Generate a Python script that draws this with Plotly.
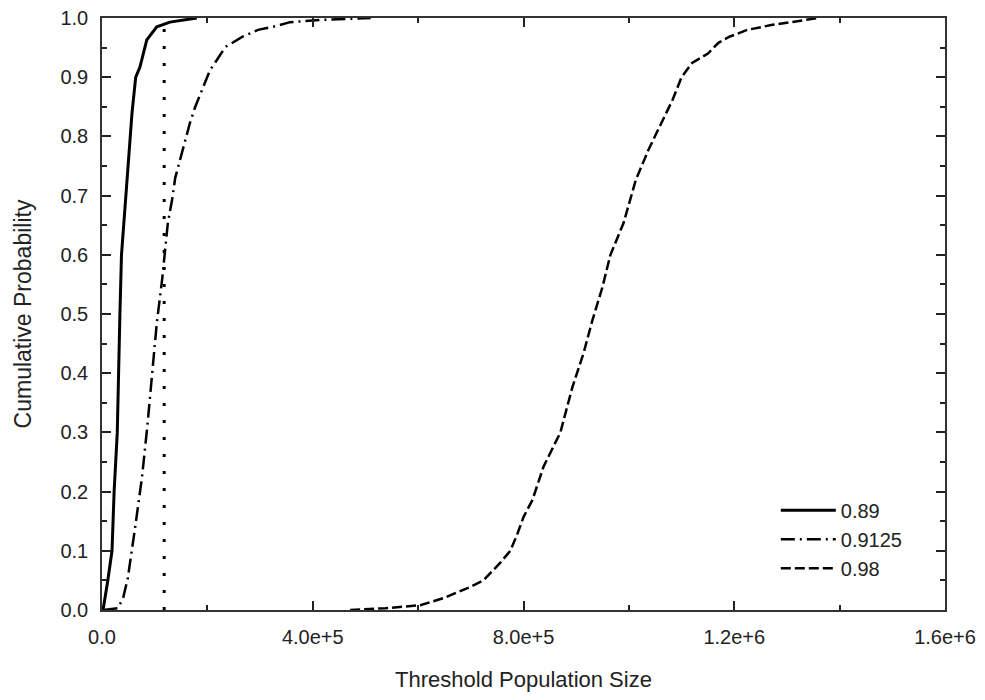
import plotly.graph_objects as go

# 0.89 series (solid)
x_089 = [2000, 6000, 11000, 19000, 23000, 29000, 31000, 34000, 37000, 45000, 53000,
         57000, 64000, 72000, 85000, 104000, 129000, 180000]
y_089 = [0.0, 0.02, 0.05, 0.10, 0.20, 0.30, 0.40, 0.50, 0.60, 0.70, 0.80,
         0.84, 0.90, 0.917, 0.963, 0.985, 0.993, 1.0]

# 0.9125 series (dash-dot)
x_09125 = [3000, 30000, 40000, 49000, 63000, 76000, 86000, 97000, 104000, 114000, 120000,
           125000, 133000, 139000, 148000, 167000, 177000, 190000, 205000, 218000,
           234000, 266000, 296000, 329000, 357000, 420000, 510000]
y_09125 = [0.0, 0.003, 0.02, 0.054, 0.14, 0.225, 0.31, 0.422, 0.485, 0.557, 0.613,
           0.654, 0.693, 0.73, 0.76, 0.823, 0.85, 0.878, 0.912, 0.929,
           0.951, 0.968, 0.98, 0.986, 0.993, 0.997, 1.0]

# 0.98 series (dashed)
x_098 = [471000, 538000, 604000, 648000, 699000, 724000, 756000, 775000, 789000, 800000,
         817000, 838000, 870000, 893000, 914000, 931000, 950000, 965000, 990000, 1013000,
         1037000, 1060000, 1083000, 1100000, 1120000, 1150000, 1170000, 1190000, 1225000,
         1270000, 1310000, 1360000]
y_098 = [0.0, 0.003, 0.008, 0.02, 0.039, 0.05, 0.08, 0.10, 0.13, 0.157,
         0.186, 0.242, 0.30, 0.377, 0.434, 0.49, 0.546, 0.60, 0.654, 0.726,
         0.777, 0.82, 0.862, 0.90, 0.924, 0.94, 0.958, 0.968, 0.98,
         0.988, 0.993, 1.0]

# vertical dotted reference line
x_ref = [118000, 118000]
y_ref = [0.0, 1.0]

x_tickvals = [0, 400000, 800000, 1200000, 1600000]
x_ticktext = ["0.0", "4.0e+5", "8.0e+5", "1.2e+6", "1.6e+6"]
y_tickvals = [0.0, 0.1, 0.2, 0.3, 0.4, 0.5, 0.6, 0.7, 0.8, 0.9, 1.0]
y_ticktext = ["0.0", "0.1", "0.2", "0.3", "0.4", "0.5", "0.6", "0.7", "0.8", "0.9", "1.0"]

FONT = "Liberation Sans, Arial, sans-serif"

fig = go.Figure()
fig.add_trace(go.Scatter(x=x_089, y=y_089, mode="lines", name="0.89",
                         line=dict(color="black", width=3)))
fig.add_trace(go.Scatter(x=x_09125, y=y_09125, mode="lines", name="0.9125",
                         line=dict(color="black", width=2.5, dash="14px,5px,2px,5px")))
fig.add_trace(go.Scatter(x=x_098, y=y_098, mode="lines", name="0.98",
                         line=dict(color="black", width=2.5, dash="10px,4px")))
fig.add_trace(go.Scatter(x=x_ref, y=y_ref, mode="lines", showlegend=False,
                         line=dict(color="black", width=3, dash="3px,14px")))

axis_common = dict(
    showgrid=False, zeroline=False, showline=True, linecolor="#333333", linewidth=1.5,
    mirror="allticks", ticks="inside", ticklen=9, tickwidth=1.5, tickcolor="#222222",
    automargin=False, ticklabelstandoff=8, ticklabeloverflow="allow",
    tickfont=dict(family=FONT, size=20, color="#222222"),
)

fig.update_layout(
    template="none",
    width=977, height=692,
    margin=dict(l=94, r=40, t=10, b=90),
    plot_bgcolor="white", paper_bgcolor="white",
    font=dict(family=FONT, color="#222222"),
    xaxis=dict(range=[0, 1600000], tickvals=x_tickvals, ticktext=x_ticktext,
               minor=dict(dtick=200000, ticks="inside", ticklen=5, tickwidth=1.5,
                          tickcolor="#222222"),
               title=dict(text="Threshold Population Size", font=dict(size=22, family=FONT),
                          standoff=25),
               **axis_common),
    yaxis=dict(range=[0, 1.0], tickvals=y_tickvals, ticktext=y_ticktext,
               minor=dict(dtick=0.05, ticks="inside", ticklen=5, tickwidth=1.5,
                          tickcolor="#222222"),
               title=dict(text="Cumulative Probability", font=dict(size=23, family=FONT),
                          standoff=22),
               **axis_common),
    legend=dict(x=0.7993, y=0.2015, xanchor="left", yanchor="top",
                bgcolor="rgba(0,0,0,0)", borderwidth=0,
                font=dict(size=20, family=FONT, color="#222222"),
                itemwidth=55, tracegroupgap=0),
)

fig.write_html("out.html")
